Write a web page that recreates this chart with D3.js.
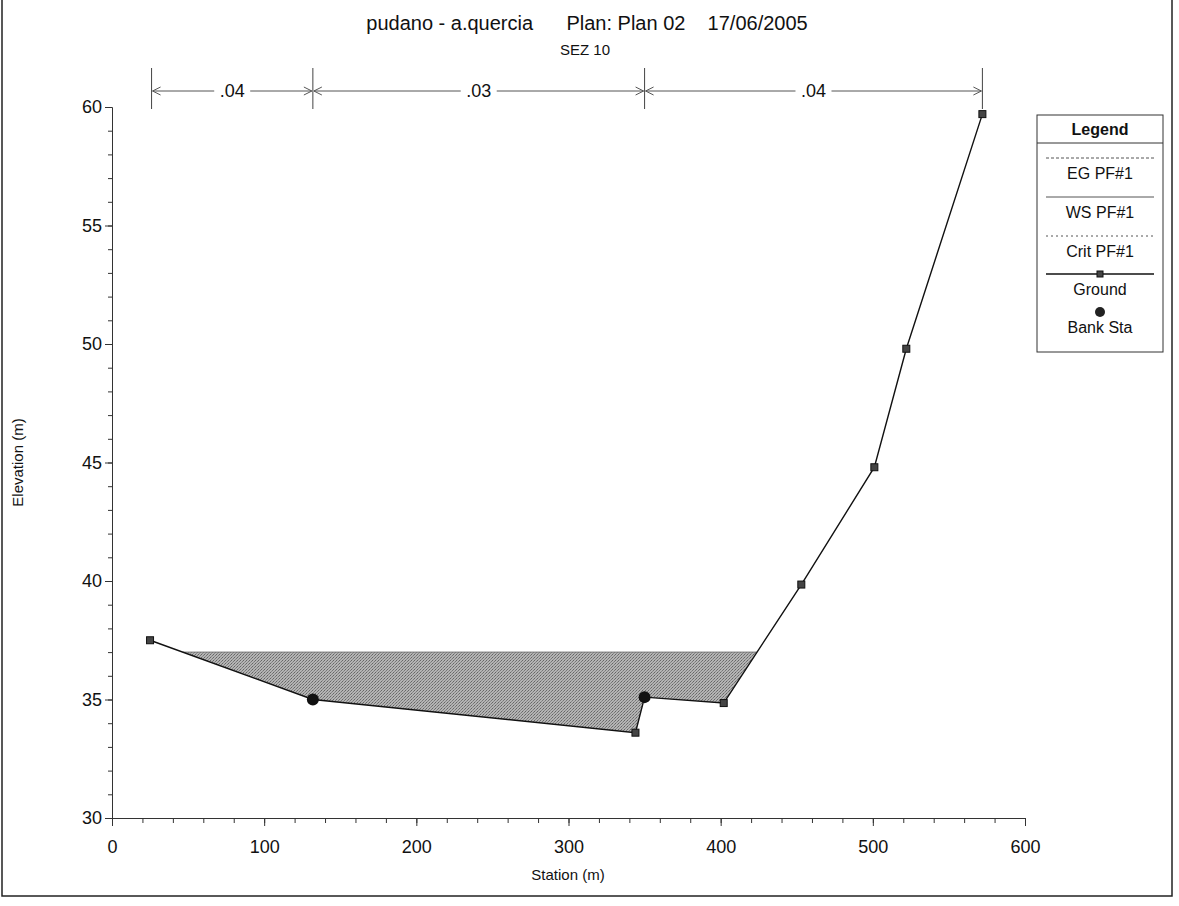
<!DOCTYPE html>
<html>
<head>
<meta charset="utf-8">
<script src="https://cdnjs.cloudflare.com/ajax/libs/d3/7.8.5/d3.min.js"></script>
<style>
  body { margin: 0; background: #fff; }
  text { font-family: "Liberation Sans", Arial, sans-serif; fill: #111; }
</style>
</head>
<body>
<div class="wrapper"></div>
<script>
// cross section data (station m, elevation m)
var groundSta  = [25, 132, 344, 350, 402, 453, 501, 522, 572];
var groundElev = [37.5, 35.0, 33.6, 35.1, 34.85, 39.85, 44.8, 49.8, 59.7];
var bankSta  = [132, 350];
var bankElev = [35.0, 35.1];
var wsElev = 37.0;
var nBounds = [26, 132, 350, 572];
var nValues = [".04", ".03", ".04"];
var xTicks = [0, 100, 200, 300, 400, 500, 600];
var yTicks = [30, 35, 40, 45, 50, 55, 60];
var legendItems = ["EG PF#1", "WS PF#1", "Crit PF#1", "Ground", "Bank Sta"];

var w = 1179, h = 906;

var svg = d3.select(".wrapper").append("svg")
    .attr("width", w)
    .attr("height", h);

var x = d3.scaleLinear().domain([0, 600]).range([112, 1025]);
var y = d3.scaleLinear().domain([30, 60]).range([818, 107]);

// dithered grey like the printed fill
var pat = svg.append("defs").append("pattern")
    .attr("id", "dither").attr("patternUnits", "userSpaceOnUse")
    .attr("width", 3).attr("height", 3);
pat.append("rect").attr("width", 3).attr("height", 3).attr("fill", "#b4b4b4");
pat.append("rect").attr("x", 0).attr("y", 0).attr("width", 1).attr("height", 1).attr("fill", "#666");
pat.append("rect").attr("x", 2).attr("y", 1).attr("width", 1).attr("height", 1).attr("fill", "#777");
pat.append("rect").attr("x", 1).attr("y", 2).attr("width", 1).attr("height", 1).attr("fill", "#888");

// scan frame
svg.append("rect")
    .attr("x", 2).attr("y", -2)
    .attr("width", 1170).attr("height", 898)
    .attr("fill", "none").attr("stroke", "#222").attr("stroke-width", 1.5);

// titles
svg.append("text").attr("x", 587).attr("y", 30)
    .attr("text-anchor", "middle").style("font-size", "20px")
    .attr("xml:space", "preserve")
    .text("pudano - a.quercia      Plan: Plan 02    17/06/2005");
svg.append("text").attr("x", 585).attr("y", 55)
    .attr("text-anchor", "middle").style("font-size", "15px")
    .text("SEZ 10");

// water area: find where the ws crosses the ground
var ground = groundSta.map(function(s, i) { return [s, groundElev[i]]; });
function crossing(a, b) {
  return a[0] + (wsElev - a[1]) / (b[1] - a[1]) * (b[0] - a[0]);
}
var wetPts = [];
var left = crossing(ground[0], ground[1]);
var right = crossing(ground[4], ground[5]);
wetPts.push([left, wsElev]);
ground.forEach(function(p) { if (p[0] > left && p[0] < right) wetPts.push(p); });
wetPts.push([right, wsElev]);

var line = d3.line().x(function(d) { return x(d[0]); }).y(function(d) { return y(d[1]); });

svg.append("path")
    .attr("d", line(wetPts) + "Z")
    .attr("fill", "url(#dither)")
    .attr("stroke", "none");
svg.append("line")
    .attr("x1", x(left)).attr("x2", x(right))
    .attr("y1", y(wsElev)).attr("y2", y(wsElev))
    .attr("stroke", "#777").attr("stroke-width", 1);

// axes
var xAxis = d3.axisBottom(x).tickValues(d3.range(0, 601, 20)).tickSize(5).tickFormat("");
svg.append("g").attr("transform", "translate(0," + y(30) + ")").call(xAxis)
    .call(function(g) { g.selectAll("line,path").attr("stroke", "#333"); });
svg.append("g").attr("transform", "translate(0," + y(30) + ")")
    .call(d3.axisBottom(x).tickValues(xTicks).tickSize(8).tickPadding(14))
    .call(function(g) {
      g.select(".domain").remove();
      g.selectAll("line").attr("stroke", "#333");
      g.selectAll("text").style("font-size", "18px").style("font-family", "Liberation Sans, Arial, sans-serif").attr("fill", "#111");
    });

var yAxis = d3.axisLeft(y).tickValues(d3.range(30, 61, 1)).tickSize(4).tickFormat("");
svg.append("g").attr("transform", "translate(" + x(0) + ",0)").call(yAxis)
    .call(function(g) { g.selectAll("line,path").attr("stroke", "#333"); });
svg.append("g").attr("transform", "translate(" + x(0) + ",0)")
    .call(d3.axisLeft(y).tickValues(yTicks).tickSize(7).tickPadding(3))
    .call(function(g) {
      g.select(".domain").remove();
      g.selectAll("line").attr("stroke", "#333");
      g.selectAll("text").style("font-size", "18px").style("font-family", "Liberation Sans, Arial, sans-serif").attr("fill", "#111");
    });

svg.append("text").attr("x", 568).attr("y", 880)
    .attr("text-anchor", "middle").style("font-size", "15px")
    .text("Station (m)");
svg.append("text")
    .attr("transform", "translate(23," + y(45) + ") rotate(-90)")
    .attr("text-anchor", "middle").style("font-size", "15px")
    .text("Elevation (m)");

// ground line + markers
svg.append("path")
    .attr("d", line(ground))
    .attr("fill", "none").attr("stroke", "#111").attr("stroke-width", 1.4);
svg.selectAll(".gpt").data(ground).enter().append("rect")
    .attr("class", "gpt")
    .attr("x", function(d) { return x(d[0]) - 3.5; })
    .attr("y", function(d) { return y(d[1]) - 3.5; })
    .attr("width", 7).attr("height", 7)
    .attr("fill", "#444").attr("stroke", "#111").attr("stroke-width", 1);
svg.selectAll(".bank").data(bankSta).enter().append("circle")
    .attr("cx", function(d) { return x(d); })
    .attr("cy", function(d, i) { return y(bankElev[i]); })
    .attr("r", 6).attr("fill", "#111");

// manning n markers
var nTop = 68, nY = 91;
nBounds.forEach(function(s) {
  svg.append("line").attr("x1", x(s)).attr("x2", x(s))
      .attr("y1", nTop).attr("y2", y(60) + 2)
      .attr("stroke", "#444").attr("stroke-width", 1);
});
nValues.forEach(function(v, i) {
  var x1 = x(nBounds[i]), x2 = x(nBounds[i + 1]), xm = (x1 + x2) / 2;
  svg.append("text").attr("x", xm).attr("y", nY + 6)
      .attr("text-anchor", "middle").style("font-size", "18px").text(v);
  var g = svg.append("g").attr("stroke", "#555").attr("stroke-width", 1).attr("fill", "none");
  g.append("line").attr("x1", x1 + 1).attr("x2", xm - 18).attr("y1", nY).attr("y2", nY);
  g.append("line").attr("x1", xm + 18).attr("x2", x2 - 1).attr("y1", nY).attr("y2", nY);
  g.append("path").attr("d", "M" + (x1 + 9) + "," + (nY - 4) + "L" + (x1 + 1) + "," + nY + "L" + (x1 + 9) + "," + (nY + 4));
  g.append("path").attr("d", "M" + (x2 - 9) + "," + (nY - 4) + "L" + (x2 - 1) + "," + nY + "L" + (x2 - 9) + "," + (nY + 4));
});

// legend
var lx = 1037, lw = 126, ly = 115;
var lg = svg.append("g");
lg.append("rect").attr("x", lx).attr("y", ly).attr("width", lw).attr("height", 237)
    .attr("fill", "#fff").attr("stroke", "#333").attr("stroke-width", 1);
lg.append("line").attr("x1", lx).attr("x2", lx + lw).attr("y1", ly + 28).attr("y2", ly + 28)
    .attr("stroke", "#333");
lg.append("text").attr("x", lx + lw / 2).attr("y", ly + 20)
    .attr("text-anchor", "middle").style("font-size", "16px").style("font-weight", "bold")
    .text("Legend");
var rowY = [158, 197, 236, 274, 312];
var dashes = ["3,2", null, "2,3", null, null];
legendItems.forEach(function(t, i) {
  var yy = rowY[i];
  if (i < 4) {
    lg.append("line").attr("x1", lx + 9).attr("x2", lx + lw - 9).attr("y1", yy).attr("y2", yy)
        .attr("stroke", i == 3 ? "#111" : "#555").attr("stroke-width", i == 3 ? 1.5 : 1)
        .attr("stroke-dasharray", dashes[i]);
  }
  if (i == 3) {
    lg.append("rect").attr("x", lx + lw / 2 - 3).attr("y", yy - 3).attr("width", 6).attr("height", 6)
        .attr("fill", "#444").attr("stroke", "#111");
  }
  if (i == 4) {
    lg.append("circle").attr("cx", lx + lw / 2).attr("cy", yy).attr("r", 5).attr("fill", "#222");
  }
  lg.append("text").attr("x", lx + lw / 2).attr("y", yy + 21)
      .attr("text-anchor", "middle").style("font-size", "16px").text(t);
});
</script>
</body>
</html>
